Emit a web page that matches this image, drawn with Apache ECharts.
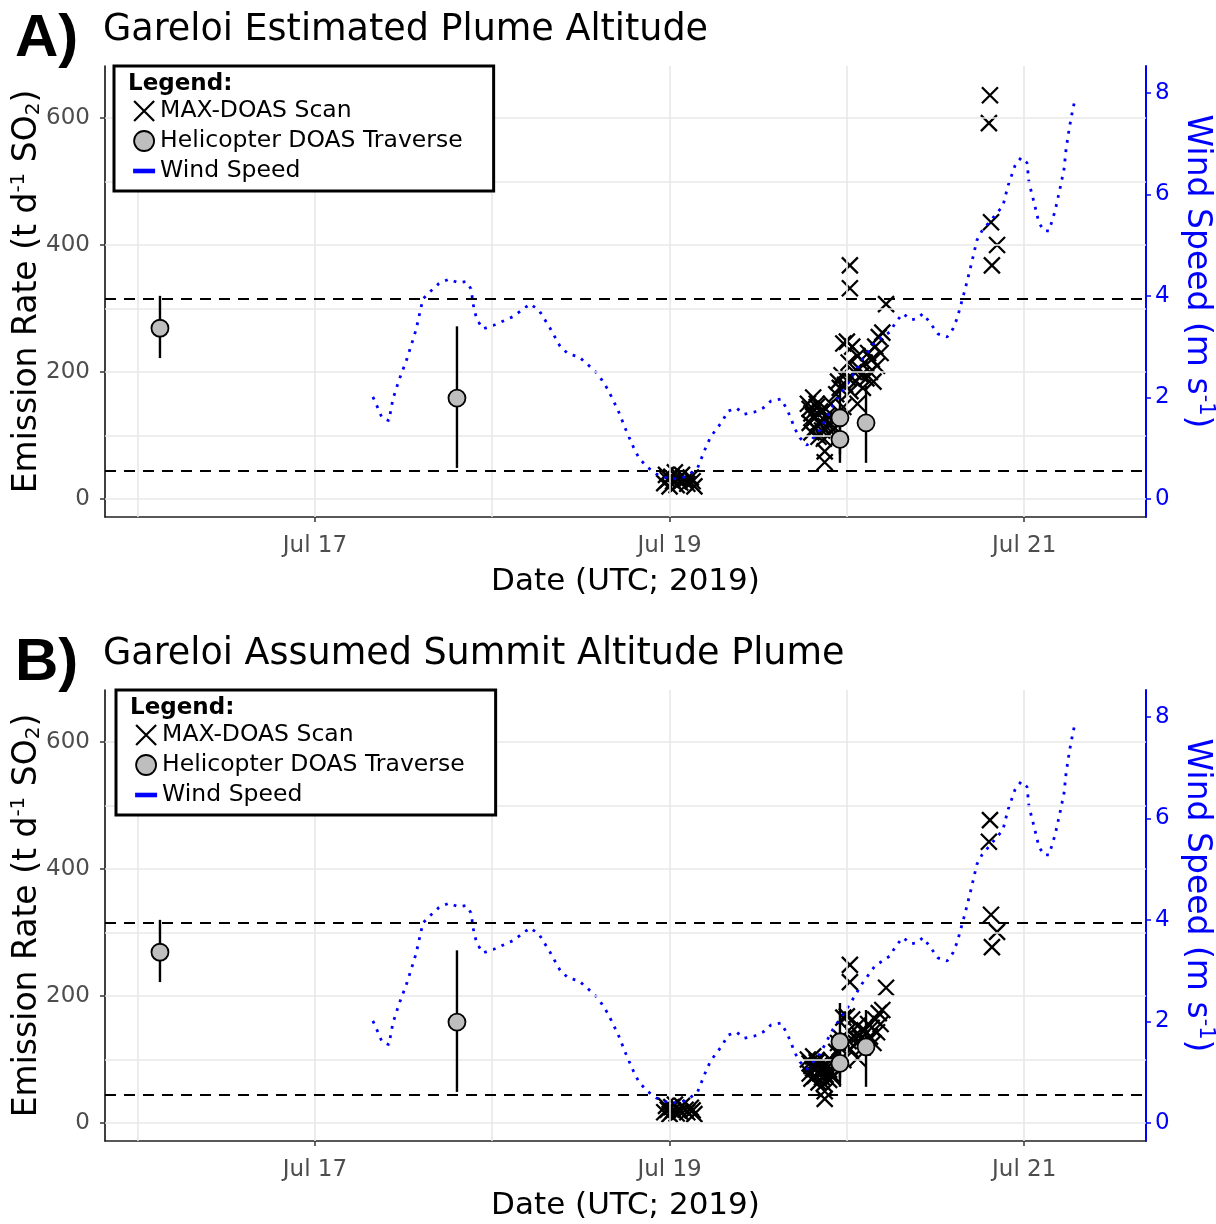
<!DOCTYPE html>
<html><head><meta charset="utf-8">
<script src="https://cdn.jsdelivr.net/npm/echarts@6/dist/echarts.min.js"></script>
<style>html,body{margin:0;padding:0;background:#fff}#c{width:1216px;height:1224px}</style>
</head><body><div id="c"></div>
<script>
// ---- axis ticks (days since Jul 15 00:00 UTC) ----
const xTickValues = [2, 4, 6];
const xTickLabels = ['Jul 17', 'Jul 19', 'Jul 21'];
const xMinorGrid = [1, 3, 5];
const yTickValues = [0, 200, 400, 600];
const yMinorGrid = [100, 300, 500];
const windTickValues = [0, 2, 4, 6, 8];
const thresholds = [316, 44];
const panelTitles = ['Gareloi Estimated Plume Altitude', 'Gareloi Assumed Summit Altitude Plume'];
const panelLetters = ['A)', 'B)'];

// ---- wind speed (m/s) ----
const windDays = [2.327,2.355,2.378,2.417,2.440,2.474,2.519,2.570,2.609,2.649,
  2.699,2.756,2.807,2.852,2.880,2.897,2.914,2.948,3.015,3.117,
  3.213,3.263,3.325,3.382,3.427,3.489,3.528,3.579,3.619,3.653,
  3.709,3.754,3.799,3.827,3.873,3.927,3.989,4.056,4.113,4.158,
  4.183,4.205,4.231,4.265,4.299,4.329,4.378,4.420,4.476,4.527,
  4.572,4.628,4.662,4.685,4.707,4.736,4.775,4.848,4.922,5.017,
  5.085,5.158,5.243,5.277,5.316,5.362,5.395,5.429,5.469,5.514,
  5.565,5.598,5.621,5.638,5.666,5.694,5.734,5.762,5.880,5.909,
  5.948,5.982,6.016,6.027,6.055,6.083,6.112,6.140,6.174,6.202,
  6.225,6.236,6.253,6.264,6.287];
const windSpeed = [2.01,1.79,1.60,1.54,1.97,2.34,2.76,3.33,3.94,4.08,
  4.24,4.33,4.26,4.28,4.14,3.74,3.53,3.35,3.43,3.59,
  3.84,3.72,3.37,3.01,2.86,2.80,2.68,2.52,2.34,2.15,
  1.75,1.36,1.00,0.81,0.63,0.49,0.41,0.39,0.49,0.61,
  0.83,1.02,1.22,1.38,1.54,1.73,1.79,1.67,1.71,1.79,
  1.93,1.97,1.77,1.58,1.38,1.20,1.06,1.36,1.85,2.34,
  2.74,3.09,3.29,3.49,3.65,3.53,3.55,3.65,3.47,3.25,
  3.19,3.35,3.55,3.76,4.12,4.51,5.10,5.28,5.77,6.17,
  6.56,6.72,6.62,6.23,5.85,5.44,5.28,5.28,5.67,6.11,
  6.50,6.88,7.27,7.49,7.88];

// ---- MAX-DOAS scans (t/d) ----
const maxDays = [3.97,3.98,3.99,4.00,4.01,4.02,4.03,4.04,4.05,4.06,4.07,4.09,4.10,4.12,4.13,4.14,
  4.78,4.79,4.80,4.80,4.81,4.82,4.82,4.83,4.84,4.84,4.85,4.86,4.87,4.87,4.88,4.89,4.90,4.91,4.92,4.875,4.875,
  4.79,4.81,4.83,4.85,4.88,4.90,4.91,
  4.94,4.95,4.96,4.97,4.98,4.98,4.99,5.00,5.01,5.01,5.02,5.03,5.04,5.05,5.06,5.06,5.07,5.08,5.09,5.10,5.11,5.12,5.13,5.14,5.15,5.16,5.17,5.18,5.19,5.20,
  5.017,5.017,5.221,
  5.801,5.807,5.813,5.818,5.847];
const maxRateA = [25,38,30,20,35,28,42,22,32,26,38,30,24,34,28,20,
  150,120,135,105,160,128,112,145,98,120,138,108,125,95,115,132,102,118,110,75,58,
  142,130,150,118,142,128,150,
  165,185,175,195,145,245,180,248,190,215,170,240,200,185,225,150,205,195,175,215,190,230,200,220,185,240,210,255,230,262,
  368,332,307,
  592,636,436,368,400];
const maxRateB = [17,27,21,14,25,20,29,15,22,18,27,21,17,24,20,14,
  100,78,90,70,105,85,74,96,64,80,92,72,82,62,76,88,68,78,72,50,38,
  94,86,99,78,94,84,99,
  112,126,119,133,99,166,122,168,129,146,116,163,136,126,153,102,139,133,119,146,129,156,136,150,126,163,143,173,156,178,
  249,222,213,
  443,477,328,277,301];

// ---- Helicopter DOAS traverses (t/d) ----
const heliDays = [1.126, 2.801, 4.961, 4.961, 5.108];
const heliRate = [269, 159, 128, 94, 120];
const heliLow  = [222, 49, 70, 57, 57];
const heliHigh = [320, 272, 189, 135, 178];

const X_MIN = 0.816, X_MAX = 6.687;
const Y_MIN = -28.3, Y_MAX = 682;
const W_MIN = -0.354, W_MAX = 8.525;

const gridTops = [66, 690];
const legendPos = [{left:114, top:66}, {left:116, top:690}];
const maxSets = [maxRateA, maxRateB];

const XPATH = 'path://M0,0L10,10M10,0L0,10';
const dv = 'DejaVu Sans';
const sans = 'Liberation Sans';

const option = {
  animation: false,
  backgroundColor: '#fff',
  title: [], grid: [], xAxis: [], yAxis: [], series: [], legend: [], graphic: []
};

for (let i = 0; i < 2; i++) {
  option.title.push({text: panelLetters[i], left: 10, top: gridTops[i] - 62,
    textStyle: {fontSize: 60, fontWeight: 'bold', fontFamily: sans, color: '#000'}});
  option.title.push({text: panelTitles[i], left: 98, top: gridTops[i] - 59,
    textStyle: {fontSize: 36.5, fontWeight: 'normal', fontFamily: dv, color: '#000'}});
  option.grid.push({left: 105, top: gridTops[i], width: 1041, height: 451,
    containLabel: false, outerBoundsMode: 'none'});
  option.xAxis.push({
    type: 'value', gridIndex: i, min: X_MIN, max: X_MAX,
    axisLine: {show: true, onZero: false, lineStyle: {color: '#222', width: 1.5}},
    axisTick: {show: true, customValues: xTickValues, length: 5, lineStyle: {color: '#333', width: 1.5}},
    axisLabel: {customValues: xTickValues, margin: 18, fontSize: 23, color: '#4d4d4d', fontFamily: dv,
      formatter: v => { const k = xTickValues.findIndex(t => Math.abs(t - v) < 1e-6); return k >= 0 ? xTickLabels[k] : ''; }},
    splitLine: {show: false},
    name: 'Date (UTC; 2019)', nameLocation: 'middle', nameGap: 49,
    nameTextStyle: {fontSize: 31, color: '#000', fontFamily: dv}
  });
  option.yAxis.push({
    type: 'value', gridIndex: i, min: Y_MIN, max: Y_MAX, position: 'left',
    axisLine: {show: true, onZero: false, lineStyle: {color: '#000', width: 1.5}},
    axisTick: {show: true, customValues: yTickValues, length: 5, lineStyle: {color: '#333', width: 1.5}},
    axisLabel: {customValues: yTickValues, margin: 15, fontSize: 23, color: '#4d4d4d', fontFamily: dv},
    splitLine: {show: false},
    name: '{a|Emission Rate (t d}{sup|-1}{a| SO}{sub|2}{a|)}', nameLocation: 'middle', nameGap: 60,
    nameMoveOverlap: false,
    nameTextStyle: {fontSize: 33, color: '#000', fontFamily: dv,
      rich: {a: {fontSize: 33, fontFamily: dv, color: '#000'},
             sup: {fontSize: 20, fontFamily: dv, color: '#000', padding: [0, 0, 16, 0]},
             sub: {fontSize: 20, fontFamily: dv, color: '#000', padding: [14, 0, 0, 0]}}}
  });
  option.yAxis.push({
    type: 'value', gridIndex: i, min: W_MIN, max: W_MAX, position: 'right',
    axisLine: {show: true, onZero: false, lineStyle: {color: '#0000ff', width: 2}},
    axisTick: {show: true, customValues: windTickValues, length: 5, lineStyle: {color: '#0000ff', width: 1.5}},
    axisLabel: {customValues: windTickValues, margin: 9, fontSize: 23, color: '#0000ff', fontFamily: dv},
    splitLine: {show: false},
    name: '{a|Wind Speed (m s}{sup|-1}{a|)}', nameLocation: 'middle', nameGap: 26, nameRotate: -90,
    nameTextStyle: {fontSize: 33, color: '#0000ff', fontFamily: dv, padding: [0, 40, 0, 0],
      rich: {a: {fontSize: 33, fontFamily: dv, color: '#0000ff'},
             sup: {fontSize: 21, fontFamily: dv, color: '#0000ff', padding: [0, 0, 16, 0]}}}
  });

  const yL = 2 * i, yR = 2 * i + 1;
  // grid lines
  option.series.push({
    type: 'line', xAxisIndex: i, yAxisIndex: yL, data: [], z: 1, silent: true,
    markLine: {silent: true, symbol: 'none', label: {show: false}, animation: false,
      lineStyle: {color: '#e8e8e8', width: 1.6, type: 'solid'},
      emphasis: {disabled: true},
      data: xTickValues.concat(xMinorGrid).map(v => ({xAxis: v}))
        .concat(yTickValues.concat(yMinorGrid).map(v => ({yAxis: v})))}
  });
  // threshold dashed lines
  option.series.push({
    type: 'line', xAxisIndex: i, yAxisIndex: yL, data: [], z: 2, silent: true,
    markLine: {silent: true, symbol: 'none', label: {show: false}, animation: false,
      lineStyle: {color: '#000', width: 2, type: [11, 8]},
      emphasis: {disabled: true},
      data: thresholds.map(v => ({yAxis: v}))}
  });
  // MAX-DOAS scans
  option.series.push({
    name: 'MAX-DOAS Scan', type: 'scatter', xAxisIndex: i, yAxisIndex: yL, z: 3,
    symbol: XPATH, symbolSize: 16, silent: true,
    itemStyle: {color: 'rgba(0,0,0,0)', borderColor: '#000', borderWidth: 2.3, opacity: 1},
    data: maxDays.map((d, k) => [d, maxSets[i][k]])
  });
  // wind speed
  option.series.push({
    name: 'Wind Speed', type: 'line', xAxisIndex: i, yAxisIndex: yR, z: 4, silent: true,
    showSymbol: false, symbol: 'none',
    lineStyle: {color: '#0000ff', width: 2.8, type: [2.8, 6.5]},
    itemStyle: {color: '#0000ff'},
    data: windDays.map((d, k) => [d, windSpeed[k]])
  });
  // error bars
  option.series.push({
    type: 'custom', xAxisIndex: i, yAxisIndex: yL, z: 5, silent: true,
    encode: {x: 0, y: [1, 2]},
    data: heliDays.map((d, k) => [d, heliLow[k], heliHigh[k]]),
    renderItem: (params, api) => {
      const lo = api.coord([api.value(0), api.value(1)]);
      const hi = api.coord([api.value(0), api.value(2)]);
      return {type: 'line', shape: {x1: lo[0], y1: lo[1], x2: hi[0], y2: hi[1]},
        style: {stroke: '#000', lineWidth: 2.4}};
    }
  });
  // helicopter points
  option.series.push({
    name: 'Helicopter DOAS Traverse', type: 'scatter', xAxisIndex: i, yAxisIndex: yL, z: 6, silent: true,
    symbol: 'circle', symbolSize: 17,
    itemStyle: {color: '#bebebe', borderColor: '#000', borderWidth: 1.8, opacity: 1},
    data: heliDays.map((d, k) => [d, heliRate[k]])
  });

  option.legend.push({
    left: legendPos[i].left, top: legendPos[i].top, orient: 'vertical',
    padding: [33, 31, 8, 19], itemGap: 6, itemWidth: 22, itemHeight: 20,
    borderColor: '#000', borderWidth: 3, backgroundColor: '#fff', borderRadius: 0,
    selectedMode: false, z: 20,
    textStyle: {fontSize: 23.5, fontFamily: dv, color: '#000', padding: [0, 0, 0, 0]},
    data: [
      {name: 'MAX-DOAS Scan', icon: XPATH, itemStyle: {color: 'rgba(0,0,0,0)', borderColor: '#000', borderWidth: 2.2}},
      {name: 'Helicopter DOAS Traverse', icon: 'circle', itemStyle: {color: '#bebebe', borderColor: '#000', borderWidth: 1.8}},
      {name: 'Wind Speed', icon: 'path://M0,0L24,0L24,5L0,5Z', itemStyle: {color: '#0000ff', borderWidth: 0}, lineStyle: {opacity: 0, width: 0}}
    ]
  });
  option.graphic.push({type: 'text', left: legendPos[i].left + 14, top: legendPos[i].top + 7, z: 100,
    style: {text: 'Legend:', font: 'bold 23px "DejaVu Sans"', fill: '#000'}});
}

const chart = echarts.init(document.getElementById('c'), null, {renderer: 'canvas'});
chart.setOption(option);
</script>
</body></html>
